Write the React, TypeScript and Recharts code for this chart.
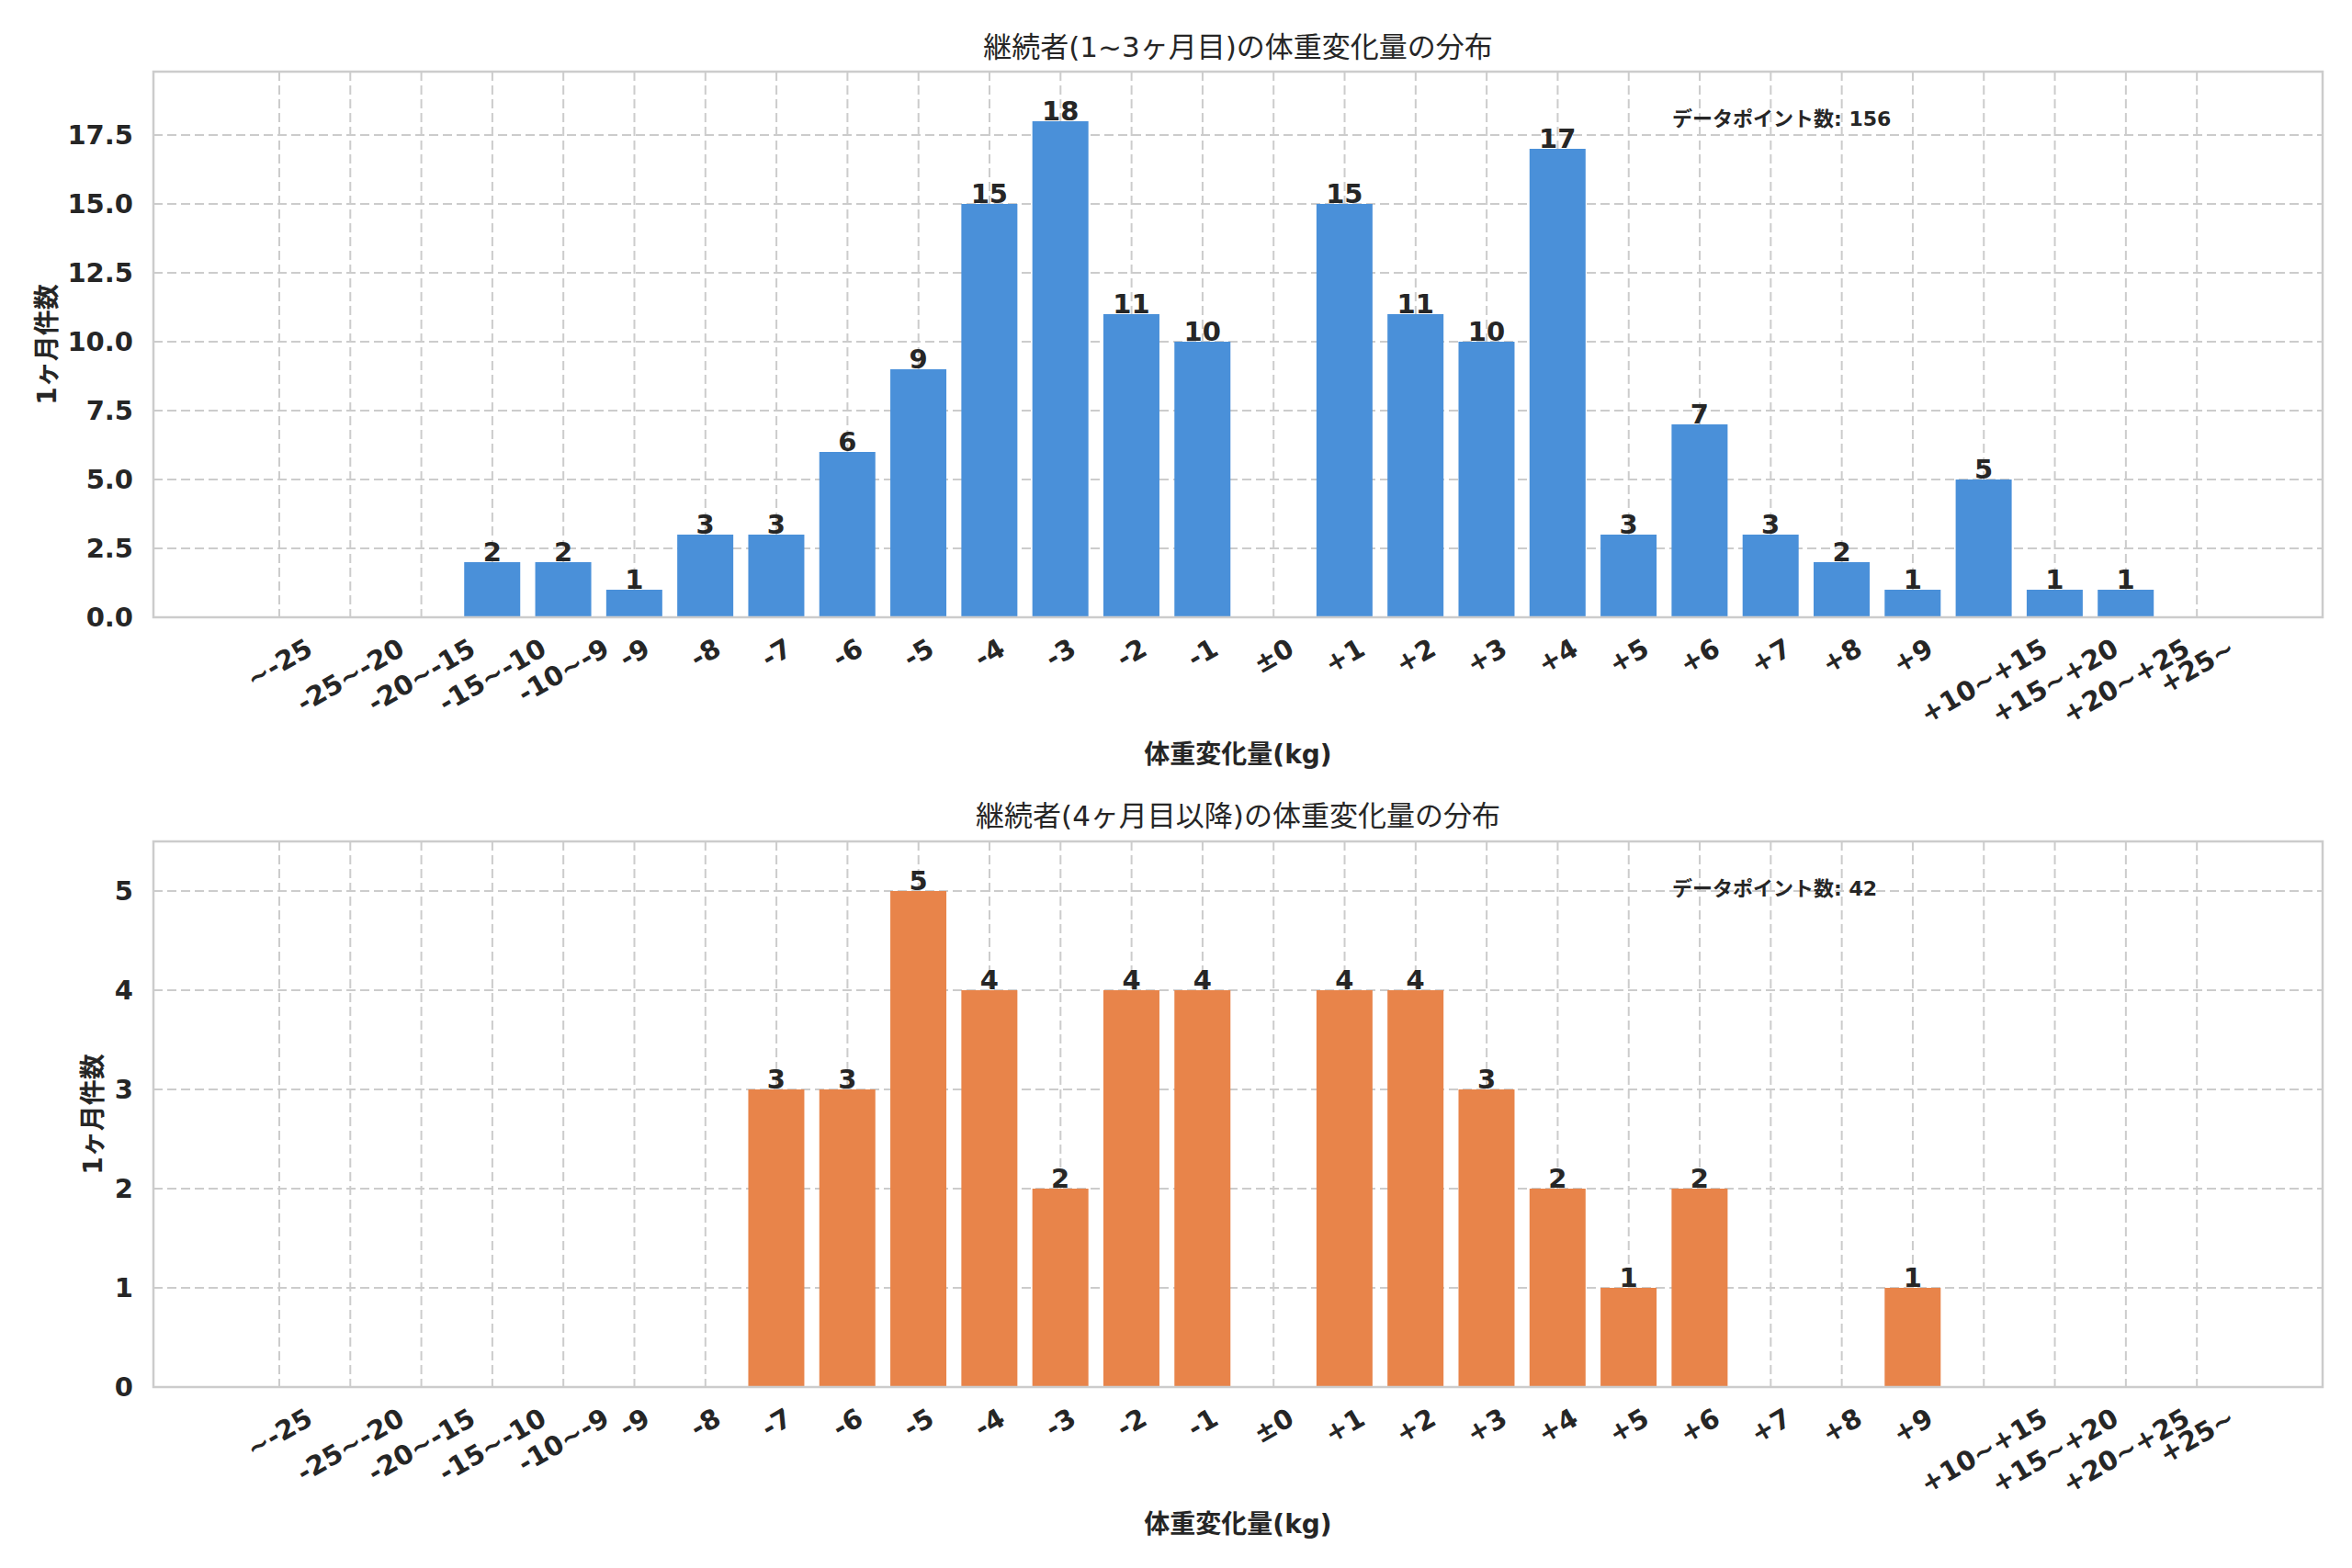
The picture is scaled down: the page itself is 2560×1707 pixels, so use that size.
import React from "react";
import { BarChart, Bar, XAxis, YAxis, CartesianGrid, LabelList } from "recharts";

// bins of weight change (kg), shared by both panels
const bins = [
  "~-25", "-25~-20", "-20~-15", "-15~-10", "-10~-9", "-9", "-8", "-7", "-6", "-5",
  "-4", "-3", "-2", "-1", "±0", "+1", "+2", "+3", "+4", "+5", "+6", "+7", "+8", "+9",
  "+10~+15", "+15~+20", "+20~+25", "+25~",
];

// months 1~3
const earlyCounts = [0, 0, 0, 2, 2, 1, 3, 3, 6, 9, 15, 18, 11, 10, 0, 15, 11, 10, 17, 3, 7, 3, 2, 1, 5, 1, 1, 0];
// month 4 onwards
const laterCounts = [0, 0, 0, 0, 0, 0, 0, 3, 3, 5, 4, 2, 4, 4, 0, 4, 4, 3, 2, 1, 2, 0, 0, 1, 0, 0, 0, 0];

const earlyTicks = [0, 2.5, 5, 7.5, 10, 12.5, 15, 17.5];
const laterTicks = [0, 1, 2, 3, 4, 5];

const earlyTitle = "継続者(1~3ヶ月目)の体重変化量の分布";
const laterTitle = "継続者(4ヶ月目以降)の体重変化量の分布";
const xTitle = "体重変化量(kg)";
const yTitle = "1ヶ月件数";
const totalLabel = "データポイント数";

const FONT = "'DejaVu Sans', 'Noto Sans CJK JP', sans-serif";
const TEXT = "#262626";
const GRID = "#cccccc";
const TICK_PX = 29;
const PLOT_L = 167;
const PLOT_R = 2528;
const X_MIN = -1.772;
const X_MAX = 28.77;
const tickIdx = bins.map((_, i) => i);

let ctx: CanvasRenderingContext2D | null = null;
const measure = (s: string) => {
  if (!ctx) ctx = document.createElement("canvas").getContext("2d");
  if (!ctx) return s.length * 18;
  ctx.font = `bold ${TICK_PX}px ${FONT}`;
  return ctx.measureText(s).width;
};

function RotatedTick({ x, y, payload }: any) {
  const label = bins[payload.value] ?? "";
  const cy = y + 31 + measure(label) / 4;
  return (
    <text
      x={x}
      y={cy}
      textAnchor="middle"
      dominantBaseline="central"
      transform={`rotate(-30, ${x}, ${cy})`}
      fontSize={TICK_PX}
      fontWeight="bold"
      fill={TEXT}
      fontFamily={FONT}
    >
      {label}
    </text>
  );
}

const renderValue = (props: any) => {
  const { x, y, width, value } = props;
  if (!value) return null;
  return (
    <text
      x={Number(x) + Number(width) / 2}
      y={Number(y) - 1}
      textAnchor="middle"
      fontSize={TICK_PX}
      fontWeight="bold"
      fill={TEXT}
      fontFamily={FONT}
    >
      {value}
    </text>
  );
};

function Panel({ offsetTop, height, plotTop, plotBottom, counts, color, yMax, yTicks, decimals }: any) {
  const rows = bins.map((label, i) => ({ idx: i, label, count: counts[i] }));
  const top = plotTop - offsetTop;
  const bottom = height - (plotBottom - offsetTop) - 120;
  return (
    <div style={{ position: "absolute", left: 0, top: offsetTop }}>
      <BarChart
        width={2560}
        height={height}
        data={rows}
        margin={{ top, right: 2560 - PLOT_R, left: PLOT_L - 100, bottom }}
      >
        <CartesianGrid stroke={GRID} strokeWidth={2} strokeDasharray="10 5" />
        <XAxis
          type="number"
          dataKey="idx"
          domain={[X_MIN, X_MAX]}
          ticks={tickIdx}
          interval={0}
          allowDataOverflow
          tickLine={false}
          axisLine={false}
          tickSize={0}
          tickMargin={0}
          height={120}
          tick={<RotatedTick />}
        />
        <YAxis
          type="number"
          domain={[0, yMax]}
          ticks={yTicks}
          interval={0}
          allowDataOverflow
          width={100}
          tickLine={false}
          axisLine={false}
          tickSize={0}
          tickMargin={22}
          tickFormatter={(v: number) => v.toFixed(decimals)}
          tick={{ fontSize: TICK_PX, fontWeight: "bold", fill: TEXT, fontFamily: FONT }}
        />
        <Bar dataKey="count" fill={color} barSize={61} isAnimationActive={false}>
          <LabelList dataKey="count" content={renderValue} />
        </Bar>
      </BarChart>
    </div>
  );
}

export default function App() {
  const plotW = PLOT_R - PLOT_L;
  const midX = (PLOT_L + PLOT_R) / 2;
  return (
    <div style={{ position: "absolute", left: 0, top: 0, width: 2560, height: 1707, background: "#fff" }}>
      <Panel
        offsetTop={0}
        height={853}
        plotTop={78}
        plotBottom={672}
        counts={earlyCounts}
        color="#4A90D9"
        yMax={19.8}
        yTicks={earlyTicks}
        decimals={1}
      />
      <Panel
        offsetTop={853}
        height={854}
        plotTop={916}
        plotBottom={1510}
        counts={laterCounts}
        color="#E8844A"
        yMax={5.5}
        yTicks={laterTicks}
        decimals={0}
      />
      <svg
        width={2560}
        height={1707}
        style={{ position: "absolute", left: 0, top: 0, pointerEvents: "none" }}
        fontFamily={FONT}
        fill={TEXT}
      >
        <rect x={PLOT_L} y={78} width={plotW} height={594} fill="none" stroke={GRID} strokeWidth={2.5} />
        <rect x={PLOT_L} y={916} width={plotW} height={594} fill="none" stroke={GRID} strokeWidth={2.5} />

        <text x={midX} y={62} textAnchor="middle" fontSize={31}>{earlyTitle}</text>
        <text x={midX} y={899} textAnchor="middle" fontSize={31}>{laterTitle}</text>

        <text x={midX} y={831} textAnchor="middle" fontSize={28} fontWeight="bold">{xTitle}</text>
        <text x={midX} y={1669} textAnchor="middle" fontSize={28} fontWeight="bold">{xTitle}</text>

        <text x={51} y={375} textAnchor="middle" dominantBaseline="central" transform="rotate(-90, 51, 375)" fontSize={28} fontWeight="bold">
          {yTitle}
        </text>
        <text x={101} y={1213} textAnchor="middle" dominantBaseline="central" transform="rotate(-90, 101, 1213)" fontSize={28} fontWeight="bold">
          {yTitle}
        </text>

        <text x={1820} y={137} fontSize={22} fontWeight="bold">
          {`${totalLabel}: ${earlyCounts.reduce((a, b) => a + b, 0)}`}
        </text>
        <text x={1820} y={975} fontSize={22} fontWeight="bold">
          {`${totalLabel}: ${laterCounts.reduce((a, b) => a + b, 0)}`}
        </text>
      </svg>
    </div>
  );
}
